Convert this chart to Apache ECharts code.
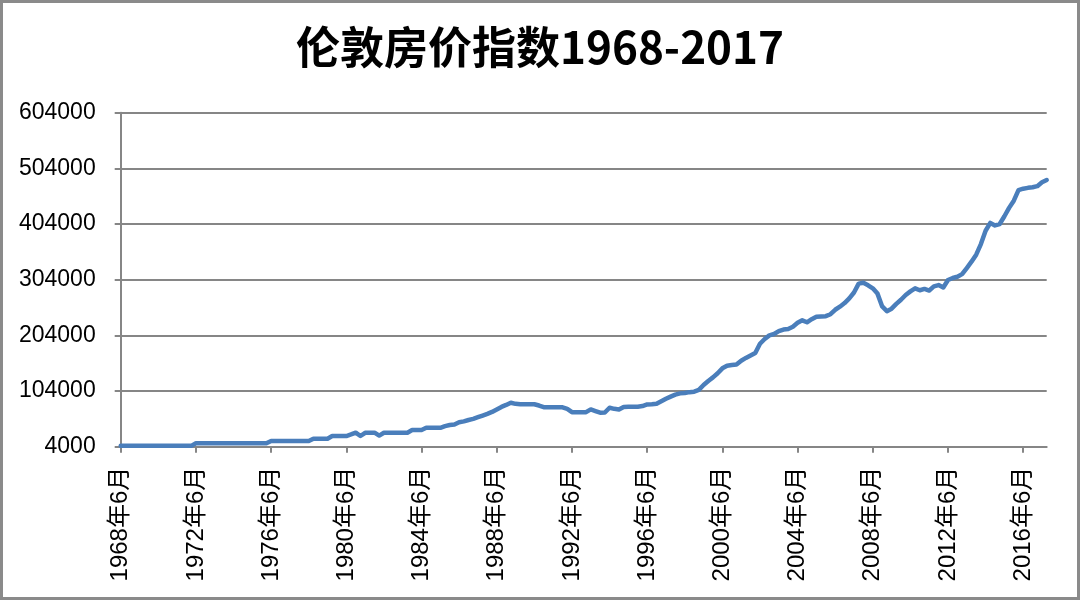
<!DOCTYPE html>
<html>
<head>
<meta charset="utf-8">
<script src="https://cdn.jsdelivr.net/npm/echarts@6/dist/echarts.min.js"></script>
<style>
html,body{margin:0;padding:0;background:#fff;}
#wrap{position:relative;width:1080px;height:600px;}
#chart{position:absolute;left:0;top:0;width:1080px;height:600px;}
#frame{position:absolute;left:0;top:0;width:1080px;height:600px;box-sizing:border-box;border:3px solid #8a8a8a;pointer-events:none;}
</style>
</head>
<body>
<div id="wrap"><div id="chart"></div><div id="frame"></div></div>
<script>
// Title
const chartTitle = '伦敦房价指数1968-2017';

// Quarterly index values, each row = one year starting June: [Jun, Sep, Dec, Mar(next year)]
const values1968_1977 = [
  5500, 5500, 5500, 5500,      // 1968
  5500, 5500, 5500, 5500,      // 1969
  5500, 5500, 5500, 5500,      // 1970
  5500, 5500, 5500, 5500,      // 1971
  10100, 10100, 10100, 10100,  // 1972
  10100, 10100, 10100, 10100,  // 1973
  10100, 10100, 10100, 10100,  // 1974
  10100, 10100, 10100, 10100,  // 1975
  14200, 14200, 14200, 14200,  // 1976
  14200, 14200, 14200, 14200   // 1977
];
const values1978_1987 = [
  14200, 18400, 18400, 18400,  // 1978
  18400, 23200, 23200, 23200,  // 1979
  23200, 26000, 29200, 23200,  // 1980
  29000, 29200, 29200, 24000,  // 1981
  29000, 29200, 29200, 29200,  // 1982
  29200, 29200, 34000, 34000,  // 1983
  34000, 38000, 38000, 38000,  // 1984
  38000, 41000, 43000, 44000,  // 1985
  48000, 49500, 52000, 54000,  // 1986
  57000, 60000, 63000, 66500   // 1987
];
const values1988_1997 = [
  71000, 75500, 79000, 83000,  // 1988
  81000, 80200, 80200, 80200,  // 1989
  80200, 78000, 75000, 74800,  // 1990
  74800, 74800, 74800, 72000,  // 1991
  66000, 65800, 65800, 66000,  // 1992
  71000, 68000, 65000, 65500,  // 1993
  74000, 72000, 71000, 75500,  // 1994
  75800, 75800, 75800, 77000,  // 1995
  80000, 80200, 81000, 85500,  // 1996
  90000, 94000, 97500, 99800   // 1997
];
const values1998_2007 = [
  100500, 102000, 102800, 106000, // 1998
  114800, 122000, 128500, 136000, // 1999
  144800, 149500, 150700, 151500, // 2000
  158500, 163500, 168000, 172500, // 2001
  189000, 197500, 204000, 206400, // 2002
  211500, 214500, 215500, 219500, // 2003
  226500, 231000, 227500, 233000, // 2004
  237500, 238000, 238500, 242000, // 2005
  250000, 255500, 262000, 270500, // 2006
  281000, 297000, 298500, 294000  // 2007
];
const values2008_2017 = [
  288500, 279000, 256000, 247500, // 2008
  252000, 260500, 268000, 276500, // 2009
  283000, 288500, 285000, 287500, // 2010
  284500, 292000, 294400, 290000, // 2011
  303500, 307000, 309300, 314000, // 2012
  325000, 336300, 349000, 368000, // 2013
  392000, 406000, 401500, 404000, // 2014
  418000, 433000, 446000, 465000, // 2015
  467500, 469000, 470000, 472000, // 2016
  479000, 483000                  // 2017
];
const seriesValues = [].concat(values1968_1977, values1978_1987, values1988_1997, values1998_2007, values2008_2017);

// Category labels: quarters from 1968年6月
const quarterMonths = [6, 9, 12, 3];
const categories = [];
for (let i = 0; i < seriesValues.length; i++) {
  const m = quarterMonths[i % 4];
  const y = 1968 + Math.floor(i / 4) + (m === 3 ? 1 : 0);
  categories.push(y + '年' + m + '月');
}

// Y axis ticks
const yMin = 4000, yMax = 604000, yStep = 100000;

const chart = echarts.init(document.getElementById('chart'));
const axisGray = '#868686';
const labelFont = "'Liberation Sans', 'Noto Sans CJK SC', sans-serif";
chart.setOption({
  animation: false,
  backgroundColor: '#fff',
  title: {
    text: chartTitle,
    left: 'center',
    top: 20,
    textStyle: { fontSize: 44, fontWeight: 'bold', color: '#000', fontFamily: "'Noto Sans CJK SC', sans-serif" }
  },
  grid: { left: 120.7, right: 33.3, top: 112.7, bottom: 153.3, containLabel: false },
  xAxis: {
    type: 'category',
    data: categories,
    boundaryGap: false,
    axisLine: { lineStyle: { color: axisGray, width: 2 } },
    axisTick: { show: true, interval: 15, length: 6, lineStyle: { color: axisGray, width: 2 } },
    axisLabel: { interval: 15, rotate: 90, margin: 20, fontSize: 24, color: '#000', fontFamily: labelFont },
    splitLine: { show: false }
  },
  yAxis: {
    type: 'value',
    min: yMin, max: yMax, interval: yStep,
    axisLine: { show: true, lineStyle: { color: axisGray, width: 2 } },
    axisTick: { show: true, length: 6, lineStyle: { color: axisGray, width: 2 } },
    axisLabel: { margin: 25, fontSize: 23, color: '#000', fontFamily: labelFont, formatter: v => String(v) },
    splitLine: { show: true, lineStyle: { color: axisGray, width: 2 } }
  },
  series: [{
    type: 'line',
    data: seriesValues,
    showSymbol: false,
    symbol: 'none',
    smooth: false,
    lineStyle: { color: '#4a7ebb', width: 4.5, cap: 'round', join: 'round' }
  }]
});
</script>
</body>
</html>
